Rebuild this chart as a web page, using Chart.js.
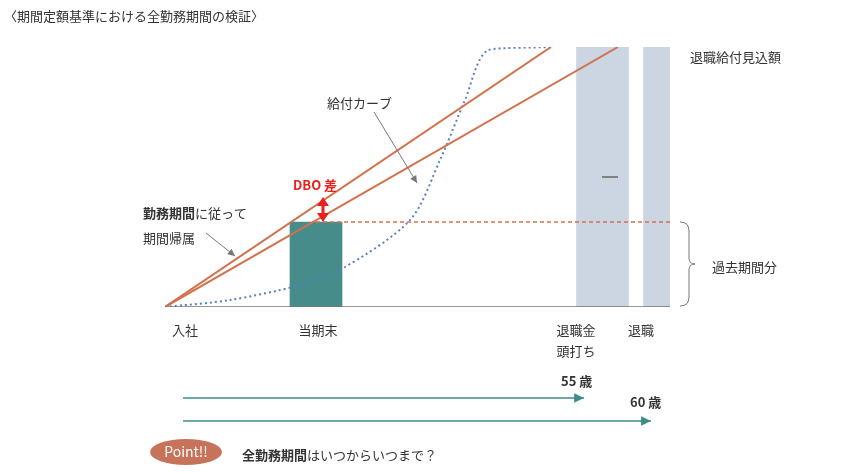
<!DOCTYPE html>
<html>
<head>
<meta charset="utf-8">
<script src="https://cdn.jsdelivr.net/npm/chart.js@4.4.1/dist/chart.umd.min.js"></script>
<style>
  body { margin: 0; background: #fff; }
  #wrap { width: 851px; height: 474px; }
</style>
</head>
<body>
<div id="wrap"><canvas id="c"></canvas></div>
<script>
// x: service position units, y: benefit amount units
const benefitCurveX = [0, 65, 135, 175, 245, 275, 300, 323, 386];
const benefitCurveY = [0, 7, 22, 37, 87, 147, 207, 257, 260];
const line55 = [{ x: 0, y: 0 }, { x: 386, y: 260 }];
const line60 = [{ x: 0, y: 0 }, { x: 453, y: 260 }];
const pastService = [{ x: 151, y: 85 }, { x: 505, y: 85 }];
const currentBar = [{ x: 177, y: 85 }];
const retireBars = [{ x: 411.5, y: 260 }, { x: 478.5, y: 260 }];
const axisLine = [{ x: 0, y: 0 }, { x: 505, y: 0 }];
const midMark = [{ x: 437, y: 130 }, { x: 453, y: 130 }];
const dboGapTop = 110;

const FONT = '"Noto Sans CJK JP", "Noto Sans", sans-serif';

const annotations = {
  id: 'annotations',
  afterDraw(chart) {
    const ctx = chart.ctx;
    const sx = chart.scales.x, sy = chart.scales.y;
    const px = v => sx.getPixelForValue(v), py = v => sy.getPixelForValue(v);
    ctx.save();
    ctx.textBaseline = 'middle';
    const text = (t, x, y, opt = {}) => {
      ctx.font = (opt.bold ? 'bold ' : '') + (opt.size || 13) + 'px ' + FONT;
      ctx.fillStyle = opt.color || '#333';
      ctx.textAlign = opt.align || 'left';
      ctx.fillText(t, x, y);
      return ctx.measureText(t).width;
    };
    const arrow = (x1, y1, x2, y2, color, w, head) => {
      ctx.strokeStyle = color; ctx.fillStyle = color; ctx.lineWidth = w;
      ctx.beginPath(); ctx.moveTo(x1, y1); ctx.lineTo(x2, y2); ctx.stroke();
      const a = Math.atan2(y2 - y1, x2 - x1);
      ctx.beginPath();
      ctx.moveTo(x2, y2);
      ctx.lineTo(x2 - head * Math.cos(a - 0.45), y2 - head * Math.sin(a - 0.45));
      ctx.lineTo(x2 - head * Math.cos(a + 0.45), y2 - head * Math.sin(a + 0.45));
      ctx.closePath(); ctx.fill();
    };

    text('〈期間定額基準における全勤務期間の検証〉', 4, 16, { size: 13 });
    text('退職給付見込額', 690, 57);
    text('過去期間分', 712, 267);
    text('給付カーブ', 327, 103);
    arrow(374, 112, 417, 183, '#777', 1, 8);
    let w = text('勤務期間', 143, 213, { bold: true });
    text('に従って', 143 + w, 213);
    text('期間帰属', 143, 238);
    arrow(206, 233, 235, 256, '#777', 1, 8);
    text('DBO 差', 293, 185, { bold: true, color: '#e8211d', size: 13 });

    // DBO double arrow
    const ax = 323;
    ctx.strokeStyle = '#e8211d'; ctx.fillStyle = '#e8211d'; ctx.lineWidth = 3;
    ctx.beginPath(); ctx.moveTo(ax, py(85) - 6); ctx.lineTo(ax, py(dboGapTop) + 6); ctx.stroke();
    [[py(85), 1], [py(dboGapTop), -1]].forEach(([y, d]) => {
      ctx.beginPath(); ctx.moveTo(ax, y); ctx.lineTo(ax - 6, y - 9 * d); ctx.lineTo(ax + 6, y - 9 * d); ctx.closePath(); ctx.fill();
    });

    // brace
    ctx.strokeStyle = '#777'; ctx.lineWidth = 1;
    const bx = 680, t = py(85), b = py(1), m = (t + b) / 2;
    ctx.beginPath();
    ctx.moveTo(bx, t); ctx.quadraticCurveTo(bx + 9, t, bx + 9, t + 9);
    ctx.lineTo(bx + 9, m - 6); ctx.quadraticCurveTo(bx + 9, m, bx + 15, m);
    ctx.moveTo(bx + 15, m); ctx.quadraticCurveTo(bx + 9, m, bx + 9, m + 6);
    ctx.lineTo(bx + 9, b - 9); ctx.quadraticCurveTo(bx + 9, b, bx, b);
    ctx.stroke();

    // axis labels
    text('入社', 185, 330, { align: 'center' });
    text('当期末', 318, 330, { align: 'center' });
    text('退職金', 576, 330, { align: 'center' });
    text('頭打ち', 576, 351, { align: 'center' });
    text('退職', 641, 330, { align: 'center' });

    // age arrows
    text('55 歳', 561, 381, { bold: true });
    arrow(183, 398, 584, 398, '#3e8c88', 1.5, 11);
    text('60 歳', 630, 402, { bold: true });
    arrow(183, 421, 651, 421, '#3e8c88', 1.5, 11);

    // Point!!
    ctx.fillStyle = '#c7735a';
    ctx.beginPath(); ctx.ellipse(186, 452, 36, 13, 0, 0, Math.PI * 2); ctx.fill();
    text('Point!!', 186, 452, { color: '#fff', size: 14, align: 'center' });
    w = text('全勤務期間', 242, 455, { bold: true });
    text('はいつからいつまで？', 242 + w, 455);
    ctx.restore();
  }
};

new Chart(document.getElementById('c'), {
  type: 'bar',
  data: {
    datasets: [
      { type: 'line', data: axisLine, borderColor: '#777', borderWidth: 1.5, pointRadius: 0, order: 0 },
      { type: 'line', data: midMark, borderColor: '#666', borderWidth: 1.5, pointRadius: 0, order: 0 },
      { type: 'line', data: pastService, borderColor: '#d2724d', borderWidth: 1.5, borderDash: [4, 3], pointRadius: 0, order: 0 },
      { type: 'line', data: line55, borderColor: '#d2724d', borderWidth: 2, pointRadius: 0, order: 0 },
      { type: 'line', data: line60, borderColor: '#d2724d', borderWidth: 2, pointRadius: 0, order: 0 },
      { type: 'line', data: benefitCurveX.map((x, i) => ({ x, y: benefitCurveY[i] })), borderColor: '#5b7fc4', borderWidth: 2, borderDash: [2, 3], pointRadius: 0, tension: 0.3, order: 0 },
      { data: currentBar, backgroundColor: '#468c8a', barThickness: 52, order: 2 },
      { data: retireBars, backgroundColor: '#cbd6e2', barThickness: 52, order: 2 }
    ]
  },
  options: {
    responsive: true,
    maintainAspectRatio: false,
    animation: false,
    layout: { padding: { left: 165, right: 181, top: 47, bottom: 167 } },
    plugins: { legend: { display: false }, tooltip: { enabled: false } },
    scales: {
      x: { type: 'linear', min: 0, max: 505, offset: false, display: false },
      y: { min: 0, max: 260, display: false }
    }
  },
  plugins: [annotations]
});
</script>
</body>
</html>
